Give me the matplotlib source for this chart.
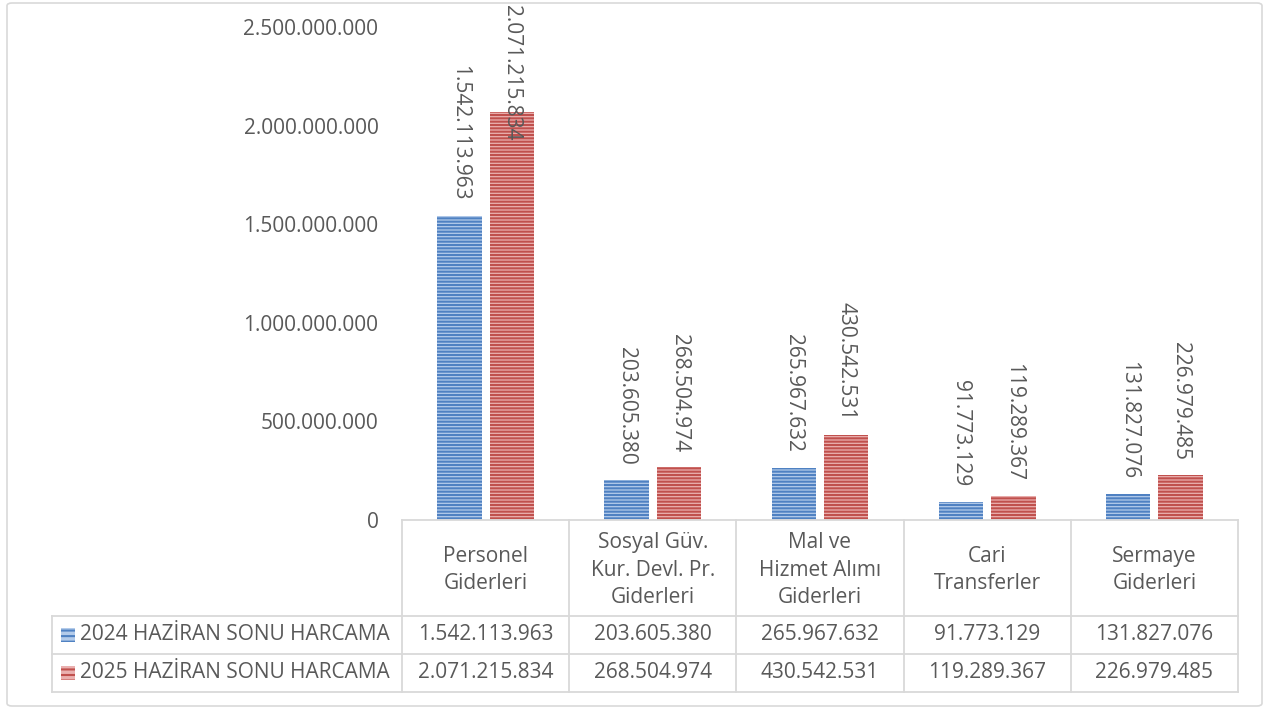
import matplotlib
matplotlib.use("Agg")
import matplotlib.pyplot as plt
from matplotlib.patches import FancyBboxPatch, Rectangle
import numpy as np

plt.rcParams['font.family'] = ['Open Sans', 'DejaVu Sans']
plt.rcParams['hatch.linewidth'] = 1.5

categories = ['Personel\nGiderleri', 'Sosyal Güv.\nKur. Devl. Pr.\nGiderleri',
              'Mal ve\nHizmet Alımı\nGiderleri', 'Cari\nTransferler', 'Sermaye\nGiderleri']
series_names = ['2024 HAZİRAN SONU HARCAMA', '2025 HAZİRAN SONU HARCAMA']
harcama_2024 = [1542113963, 203605380, 265967632, 91773129, 131827076]
harcama_2025 = [2071215834, 268504974, 430542531, 119289367, 226979485]
y_ticks = [0, 500000000, 1000000000, 1500000000, 2000000000, 2500000000]

face_colors = ['#b3cbea', '#eab0af']
stripe_colors = ['#4f81c2', '#c0504d']
txt = '#595959'
grid_c = '#d9d9d9'
fs = 15


def fmt(v):
    return f'{v:,}'.replace(',', '.')


W, H = 1268, 708
fig = plt.figure(figsize=(W / 100, H / 100), dpi=100)

# outer frame
fig.patches.append(FancyBboxPatch((7 / W, 2 / H), 1255 / W, 703 / H,
                                  boxstyle='round,pad=0,rounding_size=0.004',
                                  transform=fig.transFigure, fill=False,
                                  edgecolor=grid_c, linewidth=1.2))

# plot area in pixels
x0, x1 = 402, 1238
y_top, y_base = 27, 520
ax = fig.add_axes([x0 / W, 1 - y_base / H, (x1 - x0) / W, (y_base - y_top) / H])
ax.set_xlim(-0.5, len(categories) - 0.5)
ax.set_ylim(0, 2500000000)
ax.set_facecolor('none')
for s in ax.spines.values():
    s.set_visible(False)
ax.set_xticks([])
ax.set_yticks(y_ticks)
ax.set_yticklabels([fmt(t) for t in y_ticks], fontsize=fs, color=txt)
ax.tick_params(axis='y', length=0, pad=17)

x = np.arange(len(categories))
width = 0.265
offs = [-0.157, 0.157]
for i, vals in enumerate([harcama_2024, harcama_2025]):
    ax.bar(x + offs[i], vals, width, color=face_colors[i],
           edgecolor=stripe_colors[i], hatch='-----', linewidth=0)
    for xi, v in zip(x + offs[i], vals):
        if v > 1.8e9:
            # label would run past the top: Excel pins it to the chart top
            ax.text(xi, 1.045, fmt(v), transform=ax.get_xaxis_transform(),
                    rotation=270, ha='center', va='top', fontsize=fs,
                    color=txt, clip_on=False)
        else:
            ax.annotate(fmt(v), (xi, v), xytext=(0, 11), textcoords='offset points',
                        rotation=270, ha='center', va='bottom', fontsize=fs,
                        color=txt)

# data table below the axis
col_edges = np.linspace(x0, x1, len(categories) + 1)
row_y = [520, 616, 654, 692]
leg_left = 52


def fx(px):
    return px / W


def fy(py):
    return 1 - py / H


lw = 1.3
fig.add_artist(plt.Line2D([fx(x0), fx(x1)], [fy(row_y[0])] * 2, color=grid_c, lw=lw))
for ry in row_y[1:]:
    fig.add_artist(plt.Line2D([fx(leg_left), fx(x1)], [fy(ry)] * 2, color=grid_c, lw=lw))
for cx in col_edges:
    fig.add_artist(plt.Line2D([fx(cx)] * 2, [fy(row_y[0]), fy(row_y[-1])], color=grid_c, lw=lw))
fig.add_artist(plt.Line2D([fx(leg_left)] * 2, [fy(row_y[1]), fy(row_y[-1])], color=grid_c, lw=lw))

for j, cat in enumerate(categories):
    cx = (col_edges[j] + col_edges[j + 1]) / 2
    fig.text(fx(cx), fy((row_y[0] + row_y[1]) / 2 + 2), cat, ha='center', va='center',
             fontsize=fs, color=txt, linespacing=1.4)
    for r, vals in enumerate([harcama_2024, harcama_2025]):
        fig.text(fx(cx), fy((row_y[r + 1] + row_y[r + 2]) / 2), fmt(vals[j]),
                 ha='center', va='center', fontsize=fs, color=txt)

for r, name in enumerate(series_names):
    cy = (row_y[r + 1] + row_y[r + 2]) / 2
    fig.patches.append(Rectangle((fx(61), fy(cy + 7)), 14 / W, 14 / H,
                                 transform=fig.transFigure, facecolor=face_colors[r],
                                 edgecolor=stripe_colors[r], hatch='---', linewidth=0))
    fig.text(fx(80), fy(cy), name, ha='left', va='center', fontsize=fs, color=txt)

fig.savefig('out.png', dpi=100)
